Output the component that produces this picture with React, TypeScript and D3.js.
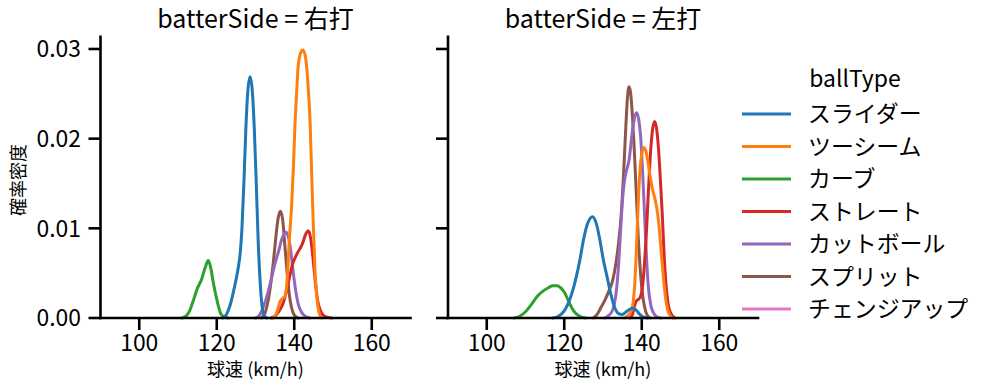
import React from "react";
import * as d3 from "d3";

// ---- data ----
const panelTitles = ["batterSide = 右打", "batterSide = 左打"];
const ballTypes = ["スライダー", "ツーシーム", "カーブ", "ストレート", "カットボール", "スプリット", "チェンジアップ"];
const typeColors = ["#1f77b4", "#ff7f0e", "#2ca02c", "#d62728", "#9467bd", "#8c564b", "#e377c2"];
const xTicks = [100, 120, 140, 160];
const yTicks = [0, 0.01, 0.02, 0.03];
const xDomain = [90, 170];
const yDomain = [0, 0.03137];

// 右打 (speed km/h, density)
const rightSlider: [number, number][] = [
  [121.5, 0], [122.5, 0.0004], [123.5, 0.0015], [124.5, 0.0033], [125.5, 0.0055], [126, 0.007],
  [126.5, 0.01], [127, 0.015], [127.5, 0.021], [128, 0.0252], [128.6, 0.0269], [129.2, 0.0252],
  [129.7, 0.021], [130.2, 0.015], [130.7, 0.0085], [131.2, 0.004], [131.7, 0.0013], [132.3, 0.0002], [133, 0],
];
const rightTwoSeam: [number, number][] = [
  [134.5, 0], [135.5, 0.0006], [136.3, 0.0018], [137, 0.0022], [137.6, 0.0024], [138.2, 0.0045],
  [138.7, 0.0085], [139.3, 0.0124], [139.8, 0.017], [140.2, 0.0217], [140.6, 0.025], [141, 0.028],
  [141.6, 0.0295], [142.2, 0.0299], [142.7, 0.0295], [143.2, 0.028], [143.7, 0.025], [144.1, 0.0217],
  [144.5, 0.016], [144.9, 0.0106], [145.3, 0.006], [145.8, 0.0024], [146.3, 0.0008], [147, 0],
];
const rightCurve: [number, number][] = [
  [111, 0], [112, 0.0002], [113, 0.0008], [114, 0.002], [115, 0.0033], [116, 0.0042], [117, 0.0056],
  [117.8, 0.0064], [118.5, 0.0055], [119, 0.0042], [119.5, 0.0031], [120, 0.0021], [120.5, 0.0012],
  [121, 0.0005], [122, 0.0001], [123, 0],
];
const rightStraight: [number, number][] = [
  [134, 0], [135, 0.0002], [136, 0.0007], [137, 0.0015], [138, 0.003], [138.8, 0.0046], [139.5, 0.0059],
  [140.3, 0.0068], [141, 0.0074], [141.7, 0.0079], [142.3, 0.0085], [142.9, 0.0093], [143.6, 0.0097],
  [144.1, 0.0092], [144.6, 0.0077], [145.1, 0.0055], [145.6, 0.0034], [146.1, 0.0018], [146.7, 0.0009],
  [147.5, 0.0003], [148.5, 0.0001], [149.7, 0],
];
const rightCutter: [number, number][] = [
  [130, 0], [131, 0.0003], [132, 0.0012], [133, 0.0025], [134, 0.0042], [135, 0.006], [136, 0.0075],
  [136.8, 0.0088], [137.4, 0.0094], [137.9, 0.0096], [138.5, 0.009], [139, 0.0078], [139.5, 0.006],
  [140, 0.0042], [140.5, 0.0027], [141, 0.0016], [141.8, 0.0007], [142.8, 0.0002], [144, 0],
];
const rightSplit: [number, number][] = [
  [131.5, 0], [132.5, 0.0006], [133.3, 0.002], [134, 0.004], [134.6, 0.0062], [135.2, 0.0088],
  [135.8, 0.011], [136.4, 0.0119], [137, 0.011], [137.5, 0.0085], [138, 0.0058], [138.5, 0.0035],
  [139, 0.0018], [139.6, 0.0007], [140.5, 0.0001], [141, 0],
];
const rightChangeup: [number, number][] = [];

// 左打
const leftSlider: [number, number][] = [
  [117, 0], [118.5, 0.0002], [120, 0.0008], [121, 0.0016], [122, 0.0028], [123, 0.0044], [124, 0.0064],
  [125, 0.0088], [126, 0.0105], [127.3, 0.0113], [128.3, 0.0105], [129.2, 0.0087], [130, 0.0067],
  [131, 0.0047], [132, 0.0027], [133, 0.0012], [134, 0.0005], [135, 0.0004], [136, 0.0007],
  [137.5, 0.0011], [138.5, 0.0009], [139.5, 0.0004], [140.5, 0.0001], [141.5, 0],
];
const leftTwoSeam: [number, number][] = [
  [135.5, 0], [136.5, 0.0003], [137.3, 0.0008], [137.8, 0.0018], [138.2, 0.0038], [138.6, 0.0075],
  [139, 0.0118], [139.4, 0.0155], [139.9, 0.018], [140.5, 0.019], [141, 0.0187], [141.6, 0.0174],
  [142.2, 0.0157], [142.8, 0.0143], [143.4, 0.0133], [143.9, 0.0122], [144.4, 0.0105], [144.9, 0.008],
  [145.4, 0.0055], [145.9, 0.0032], [146.4, 0.0015], [147, 0.0005], [148, 0],
];
const leftCurve: [number, number][] = [
  [107, 0], [108.5, 0.0002], [110, 0.0007], [111.5, 0.0015], [113, 0.0024], [114.5, 0.003], [116, 0.0034],
  [117, 0.0036], [118.2, 0.0036], [119, 0.0034], [120, 0.0029], [121, 0.002], [122, 0.0011],
  [123, 0.0005], [124, 0.0002], [125.5, 0],
];
const leftStraight: [number, number][] = [
  [137, 0], [137.6, 0.0004], [138.1, 0.0013], [138.6, 0.0019], [139.2, 0.0021], [139.7, 0.0024],
  [140.2, 0.0035], [140.7, 0.006], [141.2, 0.0095], [141.7, 0.014], [142.2, 0.018], [142.7, 0.0207],
  [143.3, 0.0219], [143.8, 0.0212], [144.3, 0.019], [144.8, 0.0155], [145.3, 0.0115], [145.8, 0.0068],
  [146.3, 0.0035], [146.8, 0.0016], [147.4, 0.0006], [148.6, 0],
];
const leftCutter: [number, number][] = [
  [130.5, 0], [131.5, 0.0003], [132.5, 0.0009], [133.3, 0.0025], [134, 0.0058], [134.5, 0.0095],
  [135, 0.013], [135.5, 0.0152], [136.1, 0.0165], [136.8, 0.0178], [137.3, 0.0198], [137.8, 0.0215],
  [138.3, 0.0226], [138.7, 0.0229], [139.2, 0.0222], [139.7, 0.0203], [140.2, 0.0165], [140.7, 0.0118],
  [141.2, 0.007], [141.7, 0.0035], [142.3, 0.0015], [143, 0.0006], [144, 0.0001], [145, 0],
];
const leftSplit: [number, number][] = [
  [127.5, 0], [128.5, 0.0004], [129.5, 0.0012], [130.5, 0.002], [131.5, 0.003], [132.5, 0.0042],
  [133.3, 0.006], [134, 0.0083], [134.7, 0.0115], [135.3, 0.016], [135.8, 0.0205], [136.3, 0.0245],
  [136.7, 0.0258], [137.1, 0.0252], [137.6, 0.0225], [138.1, 0.0185], [138.6, 0.0138], [139.1, 0.009],
  [139.6, 0.0055], [140.1, 0.003], [140.7, 0.0013], [141.3, 0.0004], [142.2, 0],
];
const leftChangeup: [number, number][] = [];

const panelSeries = [
  [rightSlider, rightTwoSeam, rightCurve, rightStraight, rightCutter, rightSplit, rightChangeup],
  [leftSlider, leftTwoSeam, leftCurve, leftStraight, leftCutter, leftSplit, leftChangeup],
];

// ---- layout ----
const W = 987;
const H = 391;
const panelLefts = [100.5, 448];
const panelWidth = 310;
const plotTop = 36.7;
const plotBottom = 318;
const FONT = "'Noto Sans CJK JP', 'Noto Sans', sans-serif";

export default function App() {
  const y = d3.scaleLinear().domain(yDomain).range([plotBottom, plotTop]);
  const order = [6, 5, 4, 3, 2, 1, 0];

  return (
    <svg width={W} height={H} style={{ position: "absolute", left: 0, top: 0, background: "#fff" }} fontFamily={FONT}>
      {panelLefts.map((left, pi) => {
        const x = d3.scaleLinear().domain(xDomain).range([left, left + panelWidth]);
        const line = d3
          .line<[number, number]>()
          .x((d) => x(d[0]))
          .y((d) => y(d[1]))
          .curve(d3.curveMonotoneX);
        return (
          <g key={pi}>
            {order.map((ti) => {
              const data = panelSeries[pi][ti];
              if (!data.length) return null;
              return (
                <path key={ti} d={line(data) || ""} fill="none" stroke={typeColors[ti]} strokeWidth={3}
                  strokeLinejoin="round" strokeLinecap="round" />
              );
            })}
            {/* spines */}
            <line x1={left} x2={left} y1={plotTop} y2={plotBottom} stroke="#000" strokeWidth={2.6} strokeLinecap="square" />
            <line x1={left} x2={left + panelWidth} y1={plotBottom} y2={plotBottom} stroke="#000" strokeWidth={2.6} strokeLinecap="square" />
            {/* x ticks */}
            {xTicks.map((t) => (
              <g key={t}>
                <line x1={x(t)} x2={x(t)} y1={plotBottom} y2={plotBottom + 12} stroke="#000" strokeWidth={2.6} />
                <text x={x(t)} y={plotBottom + 16.5} dy="0.74em" textAnchor="middle" fontSize={22.9} fill="#000">{t}</text>
              </g>
            ))}
            {/* y ticks */}
            {yTicks.map((t) => (
              <g key={t}>
                <line x1={left - 12} x2={left} y1={y(t)} y2={y(t)} stroke="#000" strokeWidth={2.6} />
                {pi === 0 && (
                  <text x={left - 19.5} y={y(t)} dy="0.36em" textAnchor="end" fontSize={22.9} fill="#000">{t.toFixed(2)}</text>
                )}
              </g>
            ))}
            <text x={left + panelWidth / 2} y={28} textAnchor="middle" fontSize={25} fill="#000">{panelTitles[pi]}</text>
            <text x={left + panelWidth / 2} y={376} textAnchor="middle" fontSize={18} fill="#000">球速 (km/h)</text>
          </g>
        );
      })}
      <text transform={`translate(24.5,180) rotate(-90)`} textAnchor="middle" fontSize={18} fill="#000">確率密度</text>
      {/* legend */}
      <text x={855} y={87} textAnchor="middle" fontSize={22.9} fill="#000">ballType</text>
      {ballTypes.map((name, i) => {
        const ly = 114 + i * 32.5;
        return (
          <g key={name}>
            <line x1={742} x2={791} y1={ly} y2={ly} stroke={typeColors[i]} strokeWidth={3} />
            <text x={808} y={ly} dy="0.36em" fontSize={22.9} fill="#000">{name}</text>
          </g>
        );
      })}
    </svg>
  );
}
